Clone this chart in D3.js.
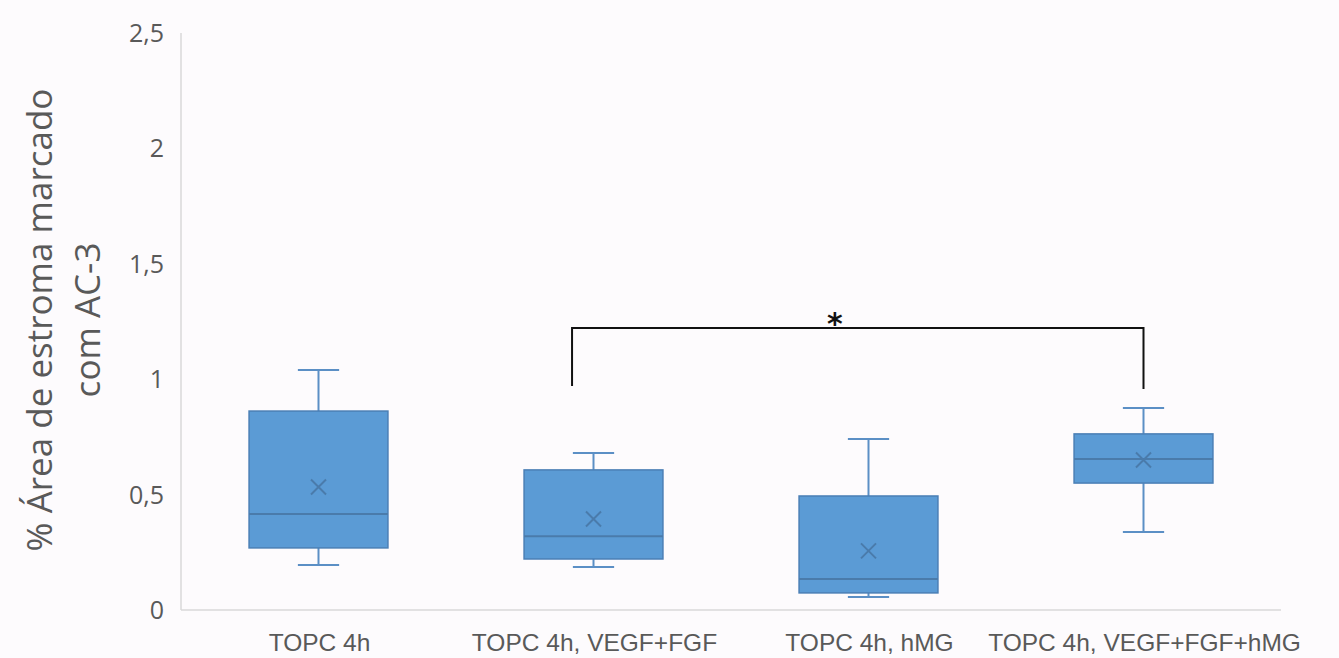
<!DOCTYPE html>
<html><head><meta charset="utf-8">
<script src="https://cdn.jsdelivr.net/npm/d3@7"></script>
<style>
html,body{margin:0;padding:0;background:#fdfbfd;}
svg{display:block;}
</style></head>
<body><svg id="c" width="1339" height="658"></svg>
<script>
const categories = ["TOPC 4h", "TOPC 4h, VEGF+FGF", "TOPC 4h, hMG", "TOPC 4h, VEGF+FGF+hMG"];
const whiskerLow  = [0.195, 0.186, 0.056, 0.338];
const q1          = [0.269, 0.221, 0.074, 0.550];
const median      = [0.416, 0.320, 0.134, 0.654];
const q3          = [0.862, 0.607, 0.494, 0.763];
const whiskerHigh = [1.040, 0.680, 0.741, 0.875];
const means       = [0.533, 0.394, 0.256, 0.650];
const yTicks = [0, 0.5, 1, 1.5, 2, 2.5];
const yTickLabels = ["0", "0,5", "1", "1,5", "2", "2,5"];
const yTitle = ["% Área de estroma marcado", "com AC-3"];
const sigFrom = 1, sigTo = 3, sigLevel = 1.222, sigLeftFoot = 0.971, sigRightFoot = 0.958, sigLabel = "*";

const svg = d3.select("#c");
const M = {left:181, right:1281, top:33, bottom:610};
const x = d3.scaleBand().domain(categories).range([M.left, M.right]).padding(0);
const y = d3.scaleLinear().domain([0, 2.5]).range([M.bottom, M.top]);
const font = "'Liberation Sans',Arial,sans-serif";
const textCol = "#595959";

// Axes lines
svg.append("line").attr("x1", M.left).attr("x2", M.left).attr("y1", M.top).attr("y2", M.bottom)
  .attr("stroke", "#d9d9d9").attr("stroke-width", 1.5);
svg.append("line").attr("x1", M.left).attr("x2", M.right).attr("y1", M.bottom).attr("y2", M.bottom)
  .attr("stroke", "#d9d9d9").attr("stroke-width", 1.5);

// Y tick labels
svg.append("g").selectAll("text").data(yTicks).join("text")
  .attr("x", 164).attr("y", d => y(d)).attr("dy", "0.36em")
  .attr("text-anchor", "end").attr("font-family", "'Open Sans',sans-serif").attr("font-size", 25)
  .attr("fill", textCol).text((d, i) => yTickLabels[i]);

// X labels
svg.append("g").selectAll("text").data(categories).join("text")
  .attr("x", d => x(d) + x.bandwidth() / 2 + 1).attr("y", 651)
  .attr("text-anchor", "middle").attr("font-family", font).attr("font-size", 24.5)
  .attr("fill", textCol).text(d => d);

// Y title
const yt = svg.append("text").attr("transform", "translate(0,320) rotate(-90)")
  .attr("text-anchor", "middle").attr("font-family", "'Open Sans',sans-serif").attr("font-size", 35).attr("fill", textCol);
yt.append("tspan").attr("x", 0).attr("y", 52).text(yTitle[0]);
yt.append("tspan").attr("x", 0).attr("y", 100).text(yTitle[1]);

// Boxes
const bw = x.bandwidth() * 0.505;
const capW = x.bandwidth() * 0.15;
const boxCol = "#5b9bd5", strokeCol = "#4a7fb5";
const g = svg.append("g");
categories.forEach((c, i) => {
  const cx = x(c) + x.bandwidth() / 2;
  g.append("line").attr("x1", cx).attr("x2", cx).attr("y1", y(whiskerHigh[i])).attr("y2", y(q3[i]))
    .attr("stroke", "#5b8fc5").attr("stroke-width", 2);
  g.append("line").attr("x1", cx).attr("x2", cx).attr("y1", y(q1[i])).attr("y2", y(whiskerLow[i]))
    .attr("stroke", "#5b8fc5").attr("stroke-width", 2);
  g.append("line").attr("x1", cx - capW / 2).attr("x2", cx + capW / 2).attr("y1", y(whiskerHigh[i])).attr("y2", y(whiskerHigh[i]))
    .attr("stroke", "#5b8fc5").attr("stroke-width", 2);
  g.append("line").attr("x1", cx - capW / 2).attr("x2", cx + capW / 2).attr("y1", y(whiskerLow[i])).attr("y2", y(whiskerLow[i]))
    .attr("stroke", "#5b8fc5").attr("stroke-width", 2);
  g.append("rect").attr("x", cx - bw / 2).attr("width", bw).attr("y", y(q3[i])).attr("height", y(q1[i]) - y(q3[i]))
    .attr("fill", boxCol).attr("stroke", strokeCol).attr("stroke-width", 1.5);
  g.append("line").attr("x1", cx - bw / 2).attr("x2", cx + bw / 2).attr("y1", y(median[i])).attr("y2", y(median[i]))
    .attr("stroke", "#4a7bab").attr("stroke-width", 2);
  const my = y(means[i]), s = 7.5;
  g.append("path").attr("d", `M${cx - s},${my - s}L${cx + s},${my + s}M${cx - s},${my + s}L${cx + s},${my - s}`)
    .attr("stroke", "#4a7bab").attr("stroke-width", 2).attr("fill", "none");
});

// Significance bracket
const bx1 = x(categories[sigFrom]) + x.bandwidth() * 0.422;
const bx2 = x(categories[sigTo]) + x.bandwidth() / 2;
svg.append("path")
  .attr("d", `M${bx1},${y(sigLeftFoot)}V${y(sigLevel)}H${bx2}V${y(sigRightFoot)}`)
  .attr("stroke", "#111").attr("stroke-width", 2).attr("fill", "none");
svg.append("text").attr("x", bx1 + (bx2 - bx1) * 0.46).attr("y", y(sigLevel) + 6)
  .attr("text-anchor", "middle").attr("font-family", "'DejaVu Sans',sans-serif").attr("font-weight", "bold")
  .attr("font-size", 30).attr("fill", "#111").text(sigLabel);
</script></body></html>
